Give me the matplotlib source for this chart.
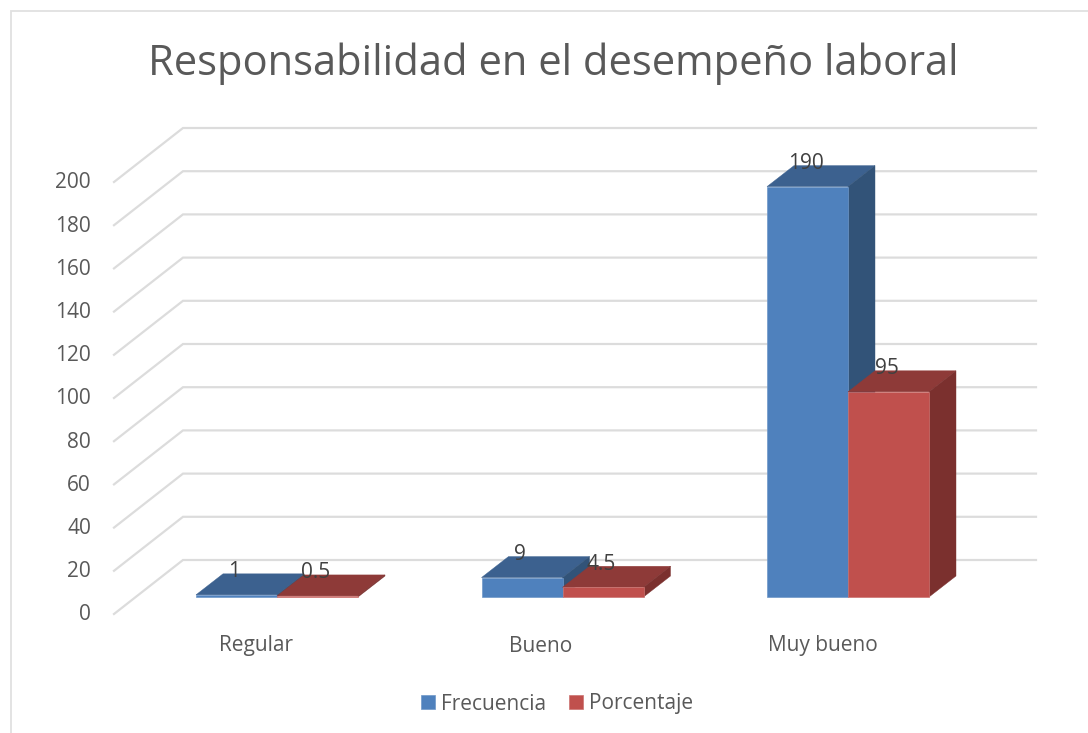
import matplotlib
matplotlib.use('Agg')
import matplotlib.pyplot as plt
from matplotlib.patches import Polygon, Rectangle

plt.rcParams['font.family'] = ['Open Sans', 'DejaVu Sans']

categories = ['Regular', 'Bueno', 'Muy bueno']
frecuencia = [1, 9, 190]
porcentaje = [0.5, 4.5, 95]
y_ticks = [0, 20, 40, 60, 80, 100, 120, 140, 160, 180, 200]
title = 'Responsabilidad en el desempeño laboral'

W, H = 1088, 733
# pixel <-> data: x=0 is the first group centre, y=0 the base of the bars
X0, XSTEP = 277.0, 285.5
Y0, YSCALE = 597.0, 2.16

def dx(px):
    return px / XSTEP

def dy(px):
    return px / YSCALE

fig = plt.figure(figsize=(W / 100, H / 100), dpi=100, facecolor='white')
ax = fig.add_axes([0, 0, 1, 1])
ax.set_xlim(-X0 / XSTEP, (W - X0) / XSTEP)
ax.set_ylim((Y0 - H) / YSCALE, Y0 / YSCALE)
ax.axis('off')

# outer frame of the chart, cut off by the right and bottom of the picture
fig.add_artist(Rectangle((11 / W, -0.1), 1.1, 1.1 - 11 / H, transform=fig.transFigure,
                         fill=False, edgecolor='#e0e0e0', linewidth=1.3))

# gridlines on the wall and the floor
front_x, back_x, right_x = dx(114 - X0), dx(183 - X0), dx(1036 - X0)
front_dy, back_dy = dy(-17), dy(37)
for v in y_ticks:
    ax.plot([front_x, back_x, right_x], [v + front_dy, v + back_dy, v + back_dy],
            color='#dcdcdc', linewidth=1.6, solid_joinstyle='miter', zorder=1)
    ax.text(dx(91 - X0), v + dy(-18), str(v), ha='right', va='center',
            fontsize=15, color='#595959')

width = dx(81)
ddx, ddy = dx(27), dy(21)

def bars3d(values, offset, front, top, side, label, edge, z):
    xs = [i + offset for i in range(len(values))]
    ax.bar(xs, values, width=width, align='edge', color=front, edgecolor=edge,
           linewidth=0.5, label=label, zorder=z + 0.2)
    for x, v in zip(xs, values):
        ax.add_patch(Polygon([(x, v), (x + width, v), (x + width + ddx, v + ddy), (x + ddx, v + ddy)],
                             facecolor=top, edgecolor=top, linewidth=0.3, zorder=z))
        ax.add_patch(Polygon([(x + width, 0), (x + width + ddx, ddy), (x + width + ddx, v + ddy), (x + width, v)],
                             facecolor=side, edgecolor=side, linewidth=0.3, zorder=z + 0.1))
        ax.text(x + width / 2 - dx(2), v + dy(23), str(v), ha='center', va='center',
                fontsize=15, color='#404040', zorder=6)

bars3d(frecuencia, -width, '#4f81bd', '#3c618f', '#325378', 'Frecuencia', '#6f97c8', 2)
bars3d(porcentaje, 0, '#c0504d', '#8e3a38', '#7b302e', 'Porcentaje', '#cc7370', 3)

for i, c in enumerate(categories):
    ax.text(i + dx({0: -21, 1: -22, 2: -25}[i]), dy(-49), c, ha='center', va='center',
            fontsize=15, color='#595959')

ax.text(dx(553 - X0), dy(Y0 - 64), title, ha='center', va='center', fontsize=30, color='#595959')

ax.legend(loc='center', bbox_to_anchor=(557.5 / W, 1 - 704 / H), ncol=2, frameon=False,
          fontsize=15, labelcolor='#595959', handlelength=0.66, handleheight=0.66,
          handletextpad=0.3, columnspacing=1.1, borderpad=0)

fig.savefig('out.png', dpi=100)
